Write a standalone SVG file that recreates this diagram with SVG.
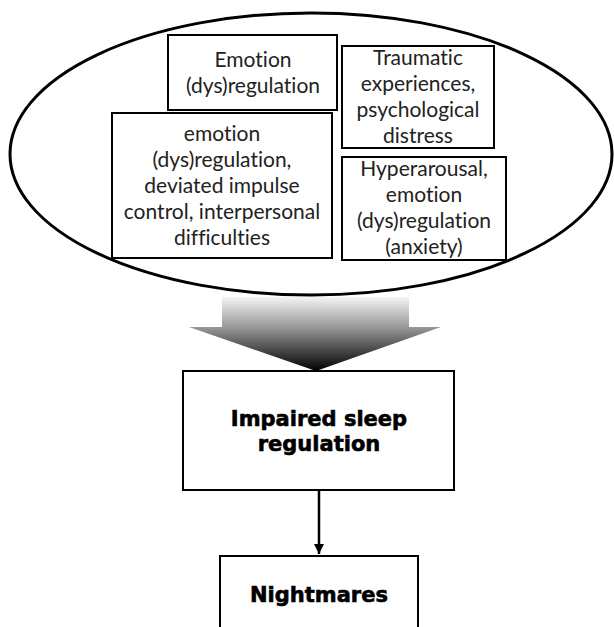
<svg xmlns="http://www.w3.org/2000/svg" width="614" height="627" viewBox="0 0 614 627">
<style>
.box{fill:#fff;stroke:#000;stroke-width:2}
.t{font-family:Lato,"Open Sans",sans-serif;font-size:21px;fill:#222;text-anchor:middle;font-variant-ligatures:none;font-feature-settings:"liga" 0}
.b{font-family:"DejaVu Sans",sans-serif;font-weight:bold;font-size:21px;fill:#000;stroke:#000;stroke-width:0.6;text-anchor:middle}
.conn{stroke:#000;stroke-width:2.5;fill:none}
</style>
<defs>
<linearGradient id="g" x1="0" y1="297" x2="0" y2="371" gradientUnits="userSpaceOnUse">
<stop offset="0" stop-color="#f4f4f4"/>
<stop offset="0.4" stop-color="#9a9a9a"/>
<stop offset="1" stop-color="#000"/>
</linearGradient>
<marker id="ah" viewBox="0 0 10 10" refX="10" refY="5" markerWidth="4" markerHeight="4.5" orient="auto" markerUnits="strokeWidth">
<path d="M0,0 L10,5 L0,10 z" fill="#000"/>
</marker>
</defs>
<g id="context">
<ellipse cx="311" cy="154" rx="301" ry="141" fill="#fff" stroke="#000" stroke-width="3"/>
</g>
<g id="n1">
<rect class="box" x="168" y="35" width="169" height="75"/>
<text class="t" x="253" y="67">Emotion</text>
<text class="t" x="253" y="93">(dys)regulation</text>
</g>
<g id="n2">
<rect class="box" x="342" y="46" width="152" height="102"/>
<text class="t" x="418" y="65">Traumatic</text>
<text class="t" x="418" y="91">experiences,</text>
<text class="t" x="418" y="117">psychological</text>
<text class="t" x="418" y="143">distress</text>
</g>
<g id="n3">
<rect class="box" x="112" y="113" width="220" height="145"/>
<text class="t" x="222" y="141">emotion</text>
<text class="t" x="222" y="167">(dys)regulation,</text>
<text class="t" x="222" y="193">deviated impulse</text>
<text class="t" x="222" y="219">control, interpersonal</text>
<text class="t" x="222" y="245">difficulties</text>
</g>
<g id="n4">
<rect class="box" x="342" y="157" width="164" height="103"/>
<text class="t" x="424" y="176">Hyperarousal,</text>
<text class="t" x="424" y="202">emotion</text>
<text class="t" x="424" y="228">(dys)regulation</text>
<text class="t" x="424" y="254">(anxiety)</text>
</g>
<g id="bigarrow">
<polygon points="222,297 409,297 409,327 441,327 316,371 189,327 222,327" fill="url(#g)"/>
</g>
<g id="n5">
<rect class="box" x="183" y="371" width="271" height="119"/>
<text class="b" x="319" y="426">Impaired sleep</text>
<text class="b" x="319" y="451">regulation</text>
</g>
<g id="connectors">
<line class="conn" x1="319" y1="490" x2="319" y2="554" marker-end="url(#ah)"/>
</g>
<g id="n6">
<rect class="box" x="220" y="556" width="198" height="80"/>
<text class="b" x="319" y="602">Nightmares</text>
</g>
</svg>
